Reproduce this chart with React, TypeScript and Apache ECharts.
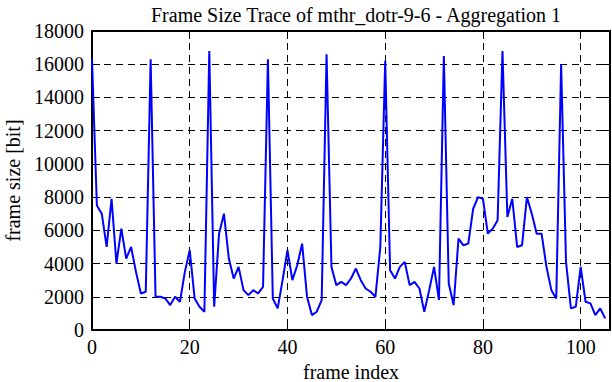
import React, { useEffect, useRef } from "react";
import * as echarts from "echarts";

const TITLE = "Frame Size Trace of mthr_dotr-9-6 - Aggregation 1";
const X_NAME = "frame index";
const Y_NAME = "frame size [bit]";

const frameSizes: number[] = [
  16300, 7500, 7000, 5000, 7900, 4000, 6100, 4300, 5000, 3500,
  2200, 2300, 16300, 2000, 2000, 1900, 1500, 2000, 1700, 3500,
  4800, 1900, 1400, 1100, 16800, 1400, 5800, 7000, 4300, 3100,
  3800, 2400, 2100, 2400, 2200, 2600, 16300, 1900, 1300, 3000,
  4800, 3000, 3900, 5200, 2000, 900, 1100, 1800, 16600, 3800,
  2700, 2900, 2700, 3100, 3700, 3000, 2500, 2300, 2000, 5000,
  16200, 3600, 3100, 3800, 4100, 2700, 2900, 2500, 1100, 2400,
  3800, 1800, 16500, 2800, 1500, 5500, 5100, 5200, 7300, 8000,
  7900, 5800, 6100, 6600, 16800, 6800, 7900, 5000, 5100, 8000,
  7000, 5800, 5800, 3800, 2400, 1900, 16000, 4100, 1300, 1400,
  3800, 1700, 1600, 900, 1300, 700,
];

const FONT = "'Liberation Serif', 'Times New Roman', serif";
const FS = 20;

export default function App() {
  const ref = useRef<HTMLDivElement>(null);
  useEffect(() => {
    if (!ref.current) return;
    const chart = echarts.init(ref.current, undefined, { renderer: "svg" });
    const data = frameSizes.map((v, i) => [i, v]);
    const axisLine = { show: true, onZero: false, lineStyle: { color: "#000", width: 2 } };
    const tick = { show: true, inside: true, length: 8, lineStyle: { color: "#000", width: 1 } };
    const grid = { show: true, lineStyle: { color: "#000", width: 1, type: [7, 5] as any } };
    chart.setOption({
      animation: false,
      backgroundColor: "#fff",
      title: {
        text: TITLE,
        left: 351,
        textAlign: "center",
        top: 0,
        textStyle: { fontFamily: FONT, fontSize: FS, fontWeight: "normal", color: "#000" },
      },
      grid: {
        left: 92,
        right: 2,
        top: 31,
        bottom: 52,
        containLabel: false,
        outerBoundsMode: "none",
      },
      xAxis: [
        {
          type: "value",
          min: 0,
          max: 106,
          interval: 20,
          position: "bottom",
          name: X_NAME,
          nameLocation: "middle",
          nameGap: 29,
          nameTextStyle: { fontFamily: FONT, fontSize: FS, color: "#000" },
          axisLine,
          axisTick: tick,
          splitLine: grid,
          axisLabel: {
            fontFamily: FONT,
            fontSize: FS,
            color: "#000",
            margin: 7,
            showMaxLabel: false,
            formatter: (v: number) => String(v),
          },
        },
        {
          type: "value",
          min: 0,
          max: 106,
          interval: 20,
          position: "top",
          axisLine,
          axisTick: tick,
          splitLine: { show: false },
          axisLabel: { show: false },
        },
      ],
      yAxis: [
        {
          type: "value",
          min: 0,
          max: 18000,
          interval: 2000,
          position: "left",
          name: Y_NAME,
          nameLocation: "middle",
          nameGap: 69,
          nameRotate: 90,
          nameTextStyle: { fontFamily: FONT, fontSize: FS, color: "#000" },
          axisLine,
          axisTick: tick,
          splitLine: grid,
          axisLabel: {
            fontFamily: FONT,
            fontSize: FS,
            color: "#000",
            margin: 8,
            formatter: (v: number) => String(v),
          },
        },
        {
          type: "value",
          min: 0,
          max: 18000,
          interval: 2000,
          position: "right",
          axisLine,
          axisTick: tick,
          splitLine: { show: false },
          axisLabel: { show: false },
        },
      ],
      series: [
        {
          type: "line",
          data,
          xAxisIndex: 0,
          yAxisIndex: 0,
          showSymbol: false,
          symbol: "none",
          lineStyle: { color: "#0000ff", width: 2 },
          z: 5,
        },
      ],
    });
    return () => chart.dispose();
  }, []);
  return <div ref={ref} style={{ width: 612, height: 382, position: "absolute", left: 0, top: 0 }} />;
}
